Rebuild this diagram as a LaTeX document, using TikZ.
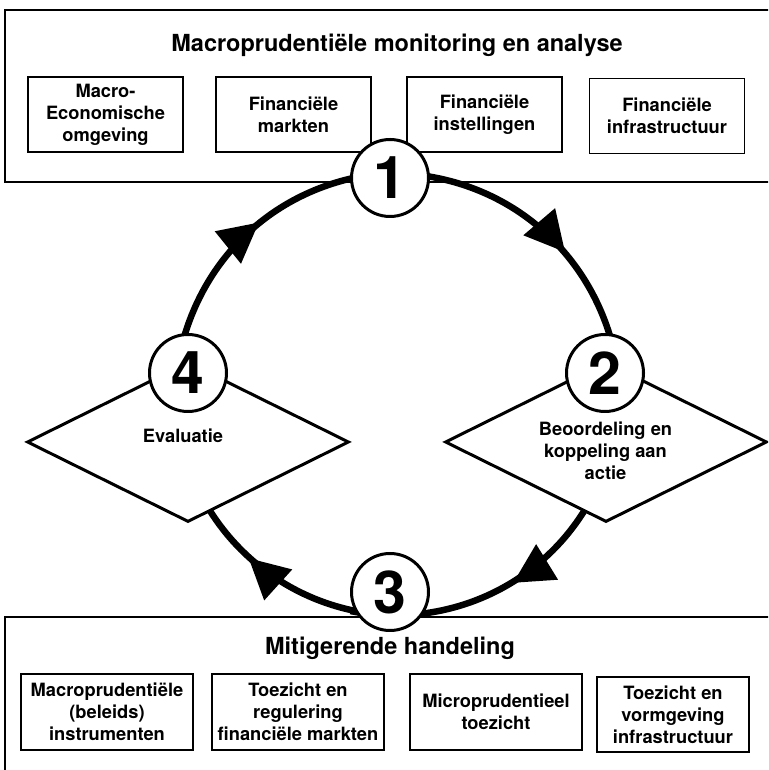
\documentclass[tikz,border=0pt]{standalone}
\usepackage{fontspec}
\setmainfont{TeX Gyre Heros}
\usetikzlibrary{arrows.meta, positioning, shapes.geometric, decorations.markings, backgrounds}

\begin{document}
\begin{tikzpicture}[x=1pt, y=1pt,
    frame/.style={line width=2pt},
    heading/.style={font=\fontsize{23.5}{27}\selectfont\bfseries, anchor=base},
    item/.style={draw, line width=1.8pt, minimum width=155pt, minimum height=75pt, inner sep=2pt, align=center, font=\fontsize{18.3}{22}\selectfont\bfseries},
    stage/.style={draw, circle, fill=white, line width=3pt, minimum size=77pt, inner sep=0pt, font=\fontsize{59}{59}\selectfont\bfseries},
    rhomb/.style={draw, diamond, fill=white, line width=3pt, minimum width=322pt, minimum height=160pt, inner sep=0pt},
    caption/.style={align=center, font=\fontsize{18.3}{22}\selectfont\bfseries},
    ring/.style={line width=6.5pt, shorten <=-5pt, shorten >=-5pt, postaction={decorate},
        decoration={markings, mark=at position #1 with {\arrow{Triangle[length=40pt, width=40pt]}}}}
]
    \useasboundingbox (0,0) rectangle (768,770);
    \clip (0,0) rectangle (768,770);

    % Panels
    \draw[frame] (5,760) rectangle (790,588);
    \draw[frame] (5,153) rectangle (790,-20);

    % Monitoring and analysis
    \node[heading] (monitortitle) at (397,718) {Macroprudentiële monitoring en analyse};
    \node[item] (macro) at (105.5,655.5) {Macro-\\Economische\\omgeving};
    \node[item] (markets) at (293.5,655.5) {Financiële\\markten};
    \node[item] (institutions) at (484.5,655.5) {Financiële\\instellingen};
    \node[item] (infra) at (667,654) {Financiële\\infrastructuur};

    % Mitigating action
    \node[heading] (actiontitle) at (390,115) {Mitigerende handeling};
    \node[item, minimum width=172pt, minimum height=76pt] (instruments) at (107,58) {Macroprudentiële\\(beleids)\\instrumenten};
    \node[item, minimum width=172pt, minimum height=76pt] (regulation) at (298,58) {Toezicht en\\regulering\\financiële markten};
    \node[item, minimum width=172pt, minimum height=76pt] (micro) at (496,58) {Microprudentieel\\toezicht};
    \node[item, minimum width=152pt] (design) at (673,55.5) {Toezicht en\\vormgeving\\infrastructuur};

    % Assessment and evaluation
    \node[rhomb] (judge) at (606,328) {};
    \node[rhomb] (review) at (188,328) {};
    \node[caption] (judgetext) at (605.5,319.5) {Beoordeling en\\koppeling aan\\actie};
    \node[caption, anchor=base] (reviewtext) at (183,327) {Evaluatie};

    % Steps
    \node[stage] (s1) at (390,592) {1};
    \node[stage] (s2) at (605,397) {2};
    \node[stage] (s3) at (390,178) {3};
    \node[stage] (s4) at (188,397) {4};

    % Cycle
    \begin{pgfonlayer}{background}
        \draw[ring=0.63] (s1.2) to[out=-8.6, in=106.5, looseness=0.92] (s2.84);
        \draw[ring=0.56] (s2.-72) to[out=-93.9, in=-10.8, looseness=1.02] (s3.210);
        \draw[ring=0.53] (s3.-34) to[out=-173.2, in=-85.8, looseness=1.0] (s4.253);
        \draw[ring=0.57] (s4.94) to[out=73.7, in=192.3, looseness=0.915] (s1.181);
    \end{pgfonlayer}
\end{tikzpicture}
\end{document}
